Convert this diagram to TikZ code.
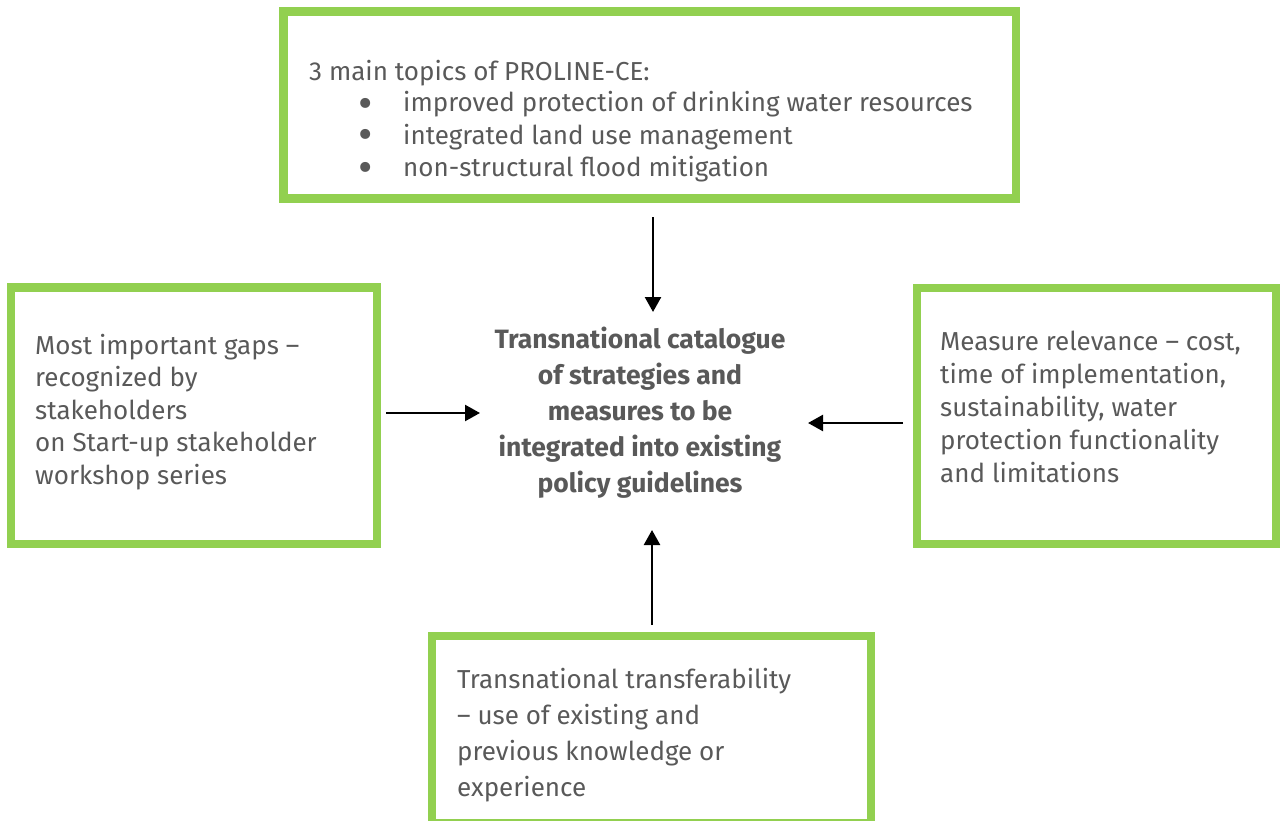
\documentclass[tikz,border=0pt]{standalone}
\usepackage{fontspec}
\setmainfont{Fira Sans}
\usetikzlibrary{arrows.meta}
\definecolor{boxgreen}{RGB}{146,208,80}
\definecolor{txtgray}{RGB}{89,89,89}

\begin{document}
\begin{tikzpicture}[x=1pt,y=-1pt,
  frame/.style={rectangle, draw=boxgreen, line width=8.5pt, inner sep=0pt, outer sep=0pt},
  slot/.style={rectangle, inner sep=0pt, outer sep=0pt},
  body/.style={text=txtgray, align=left, inner sep=0pt, anchor=base west},
  hubtext/.style={text=txtgray, align=center, inner sep=0pt, font=\bfseries\fontsize{26.5}{36}\selectfont},
  arr/.style={draw=black, line width=2.4pt, -{Triangle[length=15pt,width=16pt]}}]

\useasboundingbox (0,0) rectangle (1281,821);

% four input boxes
\node[frame, minimum width=732.5pt, minimum height=187pt] (top) at (649.75,105) {};
\node[frame, minimum width=366pt, minimum height=256.5pt] (left) at (194,415.75) {};
\node[frame, minimum width=359pt, minimum height=256pt] (right) at (1096.5,416) {};
\node[frame, minimum width=439pt, minimum height=187pt] (bottom) at (651.5,729.5) {};

% box texts (each node is placed by the baseline of its last line)
\newcommand{\bul}{\hspace*{49pt}\makebox[45pt][l]{\smash{\raisebox{-6pt}{\scalebox{1.7}{•}}}}}
\node[body, font=\fontsize{26}{32}\selectfont] (toptext) at (309,176)
  {3 main topics of PROLINE-CE:\\
   \bul improved protection of drinking water resources\\
   \bul integrated land use management\\
   \bul non-structural flood mitigation};
\node[body, font=\fontsize{26}{32.5}\selectfont] (lefttext) at (35,484)
  {Most important gaps –\\ recognized by\\ stakeholders\\ on Start-up stakeholder\\ workshop series};
\node[body, font=\fontsize{26}{33}\selectfont] (righttext) at (940,482)
  {Measure relevance – cost,\\ time of implementation,\\ sustainability, water\\ protection functionality\\ and limitations};
\node[body, font=\fontsize{26}{36}\selectfont] (bottomtext) at (457,796)
  {Transnational transferability\\ – use of existing and\\ previous knowledge or\\ experience};

% central catalogue
\node[slot, minimum width=328pt, minimum height=218pt] (hub) at (644,421) {};
\node[hubtext] (hubt) at (640,413)
  {Transnational catalogue\\ of strategies and\\ measures to be\\ integrated into existing\\ policy guidelines};

% connectors into the catalogue
\draw[arr, shorten <=18.5pt] ([xshift=3.25pt]top.south) -- ([xshift=3.25pt]top.south |- hub.north);
\draw[arr, shorten <=9pt] ([yshift=2.75pt]left.east) -- ([yshift=2.75pt]left.east -| hub.west);
\draw[arr, shorten <=14pt] ([yshift=-7pt]right.west) -- ([yshift=-7pt]right.west -| hub.east);
\draw[arr, shorten <=11pt] ([xshift=0.5pt]bottom.north) -- ([xshift=0.5pt]bottom.north |- hub.south);
\end{tikzpicture}
\end{document}
